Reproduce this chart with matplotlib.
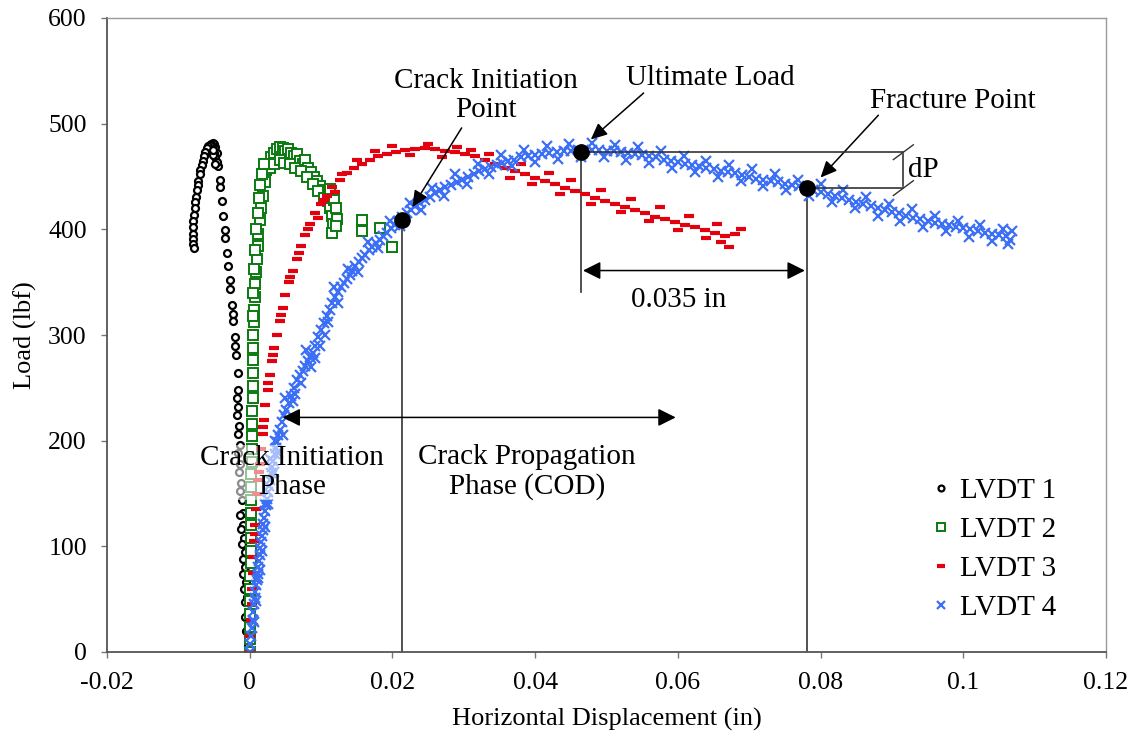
import matplotlib
matplotlib.use("Agg")
import matplotlib.pyplot as plt

plt.rcParams["font.family"] = "serif"
plt.rcParams["font.serif"] = ["Liberation Serif", "DejaVu Serif"]

# (displacement in, load lbf)
LVDT1 = [
    (0.0000, 0), (-0.0001, 12), (-0.0002, 25), (-0.0003, 38), (-0.0004, 52),
    (-0.0005, 66), (-0.0006, 80), (-0.0007, 95), (-0.0008, 108), (-0.0009, 120),
    (-0.0010, 132), (-0.0011, 144), (-0.0012, 160), (-0.0013, 178), (-0.0014, 196),
    (-0.0015, 214), (-0.0016, 232), (-0.0016, 248), (-0.0017, 264), (-0.0019, 281),
    (-0.0021, 298), (-0.0023, 313), (-0.0025, 328), (-0.0027, 344), (-0.0028, 352),
    (-0.0030, 365), (-0.0032, 378), (-0.0034, 392), (-0.0035, 399), (-0.0037, 413),
    (-0.0039, 427), (-0.0041, 440), (-0.0042, 447), (-0.0044, 460), (-0.0046, 472),
    (-0.0048, 478), (-0.0050, 481), (-0.0052, 482), (-0.0054, 481), (-0.0056, 480),
    (-0.0058, 479), (-0.0060, 477), (-0.0062, 473), (-0.0064, 469), (-0.0066, 465),
    (-0.0067, 461), (-0.0069, 456), (-0.0070, 452), (-0.0072, 446), (-0.0073, 442),
    (-0.0074, 437), (-0.0075, 431), (-0.0076, 426), (-0.0077, 420), (-0.0078, 414),
    (-0.0079, 408), (-0.0079, 402), (-0.0080, 396), (-0.0079, 391), (-0.0080, 386),
    (-0.0078, 382), (-0.0048, 468), (-0.0050, 472), (-0.0046, 464), (-0.0052, 470),
    (-0.0049, 462), (-0.0051, 475), (-0.0003, 6), (-0.0005, 20), (-0.0006, 33),
    (-0.0007, 47), (-0.0008, 60), (-0.0009, 74), (-0.0010, 88), (-0.0011, 102),
    (-0.0012, 116), (-0.0013, 130), (-0.0014, 152), (-0.0015, 170), (-0.0016, 188),
    (-0.0017, 206), (-0.0018, 224), (-0.0018, 240), (-0.0020, 290), (-0.0024, 320),
]

LVDT2 = [
    (0.0000, 0), (0.0000, 12), (0.0001, 24), (0.0001, 36), (0.0001, 48),
    (0.0001, 60), (0.0001, 72), (0.0002, 84), (0.0002, 96), (0.0002, 108),
    (0.0002, 120), (0.0002, 132), (0.0002, 144), (0.0002, 156), (0.0002, 168),
    (0.0003, 180), (0.0003, 192), (0.0003, 204), (0.0003, 216), (0.0003, 228),
    (0.0004, 240), (0.0004, 252), (0.0004, 264), (0.0004, 276), (0.0005, 288),
    (0.0005, 300), (0.0006, 312), (0.0006, 324), (0.0007, 336), (0.0008, 348),
    (0.0009, 360), (0.0010, 372), (0.0011, 384), (0.0012, 396), (0.0014, 409),
    (0.0016, 420), (0.0018, 432), (0.0021, 445), (0.0023, 456), (0.0026, 462),
    (0.0030, 468), (0.0034, 472), (0.0038, 476), (0.0042, 478), (0.0046, 477),
    (0.0050, 474), (0.0054, 476), (0.0058, 472), (0.0062, 469), (0.0066, 471),
    (0.0070, 465), (0.0074, 462), (0.0078, 466), (0.0082, 458), (0.0086, 454),
    (0.0090, 450), (0.0094, 446), (0.0098, 441), (0.0102, 437), (0.0106, 432),
    (0.0110, 427), (0.0113, 420), (0.0115, 413), (0.0117, 405), (0.0116, 397),
    (0.0028, 458), (0.0034, 462), (0.0042, 466), (0.0048, 463), (0.0056, 462),
    (0.0064, 458), (0.0072, 455), (0.0080, 450), (0.0088, 443), (0.0096, 436),
    (0.0104, 430), (0.0112, 438), (0.0118, 428), (0.0121, 420), (0.0122, 410),
    (0.0121, 403), (0.0158, 409), (0.0157, 398), (0.0182, 401), (0.0199, 383),
    (0.0004, 318), (0.0005, 340), (0.0006, 362), (0.0008, 380), (0.0009, 400),
    (0.0011, 415), (0.0013, 430), (0.0015, 442), (0.0017, 452), (0.0020, 462),
]

LVDT3 = [
    (0.0000, 0), (0.0001, 15), (0.0002, 30), (0.0003, 45), (0.0003, 60),
    (0.0004, 75), (0.0005, 90), (0.0006, 105), (0.0007, 120), (0.0009, 135),
    (0.0010, 150), (0.0012, 163), (0.0014, 178), (0.0016, 192), (0.0018, 206),
    (0.0020, 220), (0.0022, 234), (0.0025, 248), (0.0028, 262), (0.0031, 275),
    (0.0034, 288), (0.0038, 300), (0.0042, 313), (0.0046, 326), (0.0050, 338),
    (0.0055, 350), (0.0060, 361), (0.0066, 372), (0.0072, 384), (0.0078, 395),
    (0.0085, 405), (0.0092, 415), (0.0100, 424), (0.0108, 432), (0.0116, 440),
    (0.0126, 447), (0.0136, 453), (0.0146, 458), (0.0157, 462), (0.0168, 466),
    (0.0180, 469), (0.0192, 471), (0.0205, 473), (0.0218, 475), (0.0232, 476),
    (0.0246, 477), (0.0260, 476), (0.0274, 474), (0.0288, 473), (0.0302, 471),
    (0.0316, 469), (0.0330, 466), (0.0344, 462), (0.0358, 458), (0.0372, 455),
    (0.0386, 452), (0.0400, 449), (0.0414, 446), (0.0428, 443), (0.0442, 439),
    (0.0456, 436), (0.0470, 433), (0.0484, 430), (0.0498, 427), (0.0512, 424),
    (0.0526, 421), (0.0540, 418), (0.0554, 415), (0.0568, 412), (0.0582, 410),
    (0.0596, 407), (0.0610, 404), (0.0624, 402), (0.0638, 399), (0.0652, 397),
    (0.0666, 394), (0.0680, 396), (0.0688, 400),
    (0.0150, 466), (0.0175, 474), (0.0200, 479), (0.0225, 470), (0.0250, 481),
    (0.0270, 468), (0.0290, 478), (0.0310, 475), (0.0335, 471), (0.0365, 449),
    (0.0380, 462), (0.0395, 443), (0.0420, 453), (0.0435, 433), (0.0450, 447),
    (0.0478, 424), (0.0492, 437), (0.0520, 416), (0.0535, 429), (0.0560, 408),
    (0.0575, 421), (0.0600, 399), (0.0615, 413), (0.0640, 392), (0.0655, 405),
    (0.0672, 383), (0.0660, 388), (0.0120, 435), (0.0130, 452), (0.0095, 411),
    (0.0008, 112), (0.0013, 170), (0.0019, 213), (0.0026, 255), (0.0032, 281),
    (0.0044, 319), (0.0057, 355), (0.0069, 378), (0.0082, 400), (0.0104, 428),
]

LVDT4 = [
    (0.0000, 0), (0.0001, 8), (0.0002, 15), (0.0003, 23), (0.0004, 30),
    (0.0005, 38), (0.0006, 45), (0.0007, 51), (0.0008, 57), (0.0009, 63),
    (0.0010, 68), (0.0011, 74), (0.0012, 80), (0.0013, 86), (0.0014, 92),
    (0.0015, 98), (0.0016, 104), (0.0017, 110), (0.0018, 115), (0.0019, 121),
    (0.0020, 127), (0.0022, 133), (0.0023, 139), (0.0024, 145), (0.0025, 151),
    (0.0027, 157), (0.0028, 163), (0.0030, 169), (0.0031, 175), (0.0033, 181),
    (0.0035, 187), (0.0037, 193), (0.0038, 199), (0.0040, 205), (0.0042, 210),
    (0.0045, 218), (0.0048, 224), (0.0051, 229), (0.0055, 236), (0.0058, 242),
    (0.0062, 250), (0.0066, 257), (0.0070, 262), (0.0074, 266), (0.0078, 271),
    (0.0081, 275), (0.0085, 279), (0.0088, 283), (0.0092, 290), (0.0096, 298),
    (0.0100, 305), (0.0104, 311), (0.0108, 318), (0.0112, 324), (0.0116, 330),
    (0.0120, 336), (0.0124, 341), (0.0128, 345), (0.0132, 349), (0.0136, 353),
    (0.0140, 357), (0.0144, 361), (0.0148, 365), (0.0153, 369), (0.0157, 373),
    (0.0162, 376), (0.0167, 380), (0.0172, 383), (0.0177, 387), (0.0182, 390),
    (0.0187, 394), (0.0193, 397), (0.0198, 401), (0.0203, 404), (0.0208, 408),
    (0.0214, 412), (0.0220, 415), (0.0226, 418), (0.0232, 422), (0.0239, 425),
    (0.0245, 428), (0.0252, 431), (0.0259, 434), (0.0267, 437), (0.0274, 440),
    (0.0282, 442), (0.0290, 445), (0.0298, 447), (0.0306, 450), (0.0314, 452),
    (0.0322, 455), (0.0330, 457), (0.0338, 459), (0.0346, 461), (0.0354, 463),
    (0.0362, 465), (0.0370, 466), (0.0380, 468), (0.0390, 469), (0.0400, 470),
    (0.0410, 471), (0.0420, 472), (0.0430, 473), (0.0440, 474), (0.0450, 474),
    (0.0460, 475), (0.0470, 475), (0.0480, 475), (0.0490, 475), (0.0500, 474),
    (0.0510, 474), (0.0520, 473), (0.0530, 472), (0.0540, 471), (0.0550, 470),
    (0.0560, 469), (0.0570, 468), (0.0580, 466), (0.0590, 465), (0.0600, 464),
    (0.0610, 462), (0.0620, 461), (0.0630, 460), (0.0640, 458), (0.0650, 457),
    (0.0660, 455), (0.0670, 454), (0.0680, 453), (0.0690, 451), (0.0700, 450),
    (0.0710, 448), (0.0720, 447), (0.0730, 446), (0.0740, 445), (0.0750, 443),
    (0.0760, 442), (0.0770, 441), (0.0780, 439), (0.0790, 437), (0.0800, 435),
    (0.0810, 433), (0.0820, 432), (0.0830, 430), (0.0840, 428), (0.0850, 426),
    (0.0860, 424), (0.0870, 422), (0.0880, 420), (0.0890, 418), (0.0900, 416),
    (0.0910, 415), (0.0920, 413), (0.0930, 411), (0.0940, 410), (0.0950, 408),
    (0.0960, 406), (0.0970, 405), (0.0980, 404), (0.0990, 402), (0.1000, 401),
    (0.1010, 400), (0.1020, 398), (0.1030, 397), (0.1040, 396), (0.1050, 395),
    (0.1060, 394), (0.1065, 390), (0.1068, 398), (0.1062, 386),
    # band around the main trace
    (0.0012, 70), (0.0022, 118), (0.0034, 170), (0.0046, 205), (0.0060, 238),
    (0.0072, 255), (0.0086, 270), (0.0098, 290), (0.0110, 312), (0.0124, 330),
    (0.0138, 362), (0.0152, 360), (0.0166, 388), (0.0180, 382), (0.0196, 408),
    (0.0210, 403), (0.0224, 425), (0.0240, 418), (0.0256, 439), (0.0272, 432),
    (0.0288, 452), (0.0304, 443), (0.0320, 462), (0.0336, 452), (0.0352, 470),
    (0.0368, 460), (0.0384, 475), (0.0400, 464), (0.0416, 479), (0.0432, 467),
    (0.0448, 481), (0.0464, 468), (0.0480, 482), (0.0496, 468), (0.0512, 480),
    (0.0528, 466), (0.0544, 478), (0.0560, 463), (0.0576, 474), (0.0592, 458),
    (0.0608, 469), (0.0624, 454), (0.0640, 465), (0.0656, 450), (0.0672, 461),
    (0.0688, 446), (0.0704, 457), (0.0720, 441), (0.0736, 452), (0.0752, 437),
    (0.0768, 447), (0.0784, 432), (0.0800, 443), (0.0816, 426), (0.0832, 437),
    (0.0848, 420), (0.0864, 431), (0.0880, 413), (0.0896, 424), (0.0912, 408),
    (0.0928, 419), (0.0944, 402), (0.0960, 413), (0.0976, 398), (0.0992, 408),
    (0.1008, 393), (0.1024, 404), (0.1040, 389), (0.1056, 400),
    (0.0006, 28), (0.0009, 48), (0.0014, 78), (0.0017, 96), (0.0021, 140),
    (0.0026, 140), (0.0029, 183), (0.0036, 200), (0.0040, 188), (0.0050, 240),
    (0.0064, 244), (0.0079, 286), (0.0092, 278), (0.0106, 300), (0.0118, 345),
]

LABELS = ["LVDT 1", "LVDT 2", "LVDT 3", "LVDT 4"]

# key points on LVDT 4
CRACK_INIT = (0.0213, 409)
ULTIMATE = (0.0464, 473)
FRACTURE = (0.0781, 439)

DARK = "#333333"
AXIS_GRAY = "#555555"

fig = plt.figure(figsize=(11.43, 7.54), dpi=100)
ax = fig.add_axes([107 / 1143, 102 / 754, 999 / 1143, 634 / 754])

styles = [
    dict(marker="o", ms=5, mfc="white", mec="black", mew=1.6),
    dict(marker="s", ms=6.5, mfc="white", mec="#0b7a10", mew=1.4),
    dict(marker="_", ms=6.5, mec="#e3000f", mew=3.0),
    dict(marker="x", ms=7.5, mec="#3b6ff5", mew=1.6),
]
for data, label, st in zip([LVDT1, LVDT2, LVDT3, LVDT4], LABELS, styles):
    xs = [p[0] for p in data]
    ys = [p[1] for p in data]
    ax.plot(xs, ys, linestyle="none", label=label, **st)

ax.set_xlim(-0.02, 0.12)
ax.set_ylim(0, 600)
ax.set_xticks([-0.02, 0, 0.02, 0.04, 0.06, 0.08, 0.1, 0.12])
ax.set_xticklabels(["-0.02", "0", "0.02", "0.04", "0.06", "0.08", "0.1", "0.12"])
ax.set_yticks(range(0, 601, 100))
ax.tick_params(direction="out", length=4.5, width=1, color="#777777",
               labelsize=18.5, pad=10)
for name, s in ax.spines.items():
    if name in ("left", "bottom"):
        s.set_color(AXIS_GRAY)
        s.set_linewidth(1.3)
    else:
        s.set_color("#9a9a9a")
        s.set_linewidth(1.0)
ax.set_xlabel("Horizontal Displacement (in)", fontsize=19, labelpad=10)
ax.set_ylabel("Load (lbf)", fontsize=19, labelpad=8)

# reference lines
ax.plot([CRACK_INIT[0]] * 2, [0, CRACK_INIT[1]], color=DARK, lw=1.2, zorder=1)
ax.plot([ULTIMATE[0]] * 2, [341, ULTIMATE[1]], color=DARK, lw=1.2, zorder=1)
ax.plot([FRACTURE[0]] * 2, [0, FRACTURE[1]], color=DARK, lw=1.2, zorder=1)
ax.plot([ULTIMATE[0], 0.0916], [ULTIMATE[1]] * 2, color=DARK, lw=1.2, zorder=5)
ax.plot([FRACTURE[0], 0.0916], [FRACTURE[1]] * 2, color=DARK, lw=1.2, zorder=5)

# dP dimension marker
ax.plot([0.0916, 0.0916], [FRACTURE[1] + 2, ULTIMATE[1] - 2], color=DARK, lw=1.2)
for yy in (ULTIMATE[1], FRACTURE[1]):
    ax.plot([0.0902, 0.0930], [yy - 7, yy + 7], color=DARK, lw=1.0)
ax.text(0.0922, 456, "dP", fontsize=21, va="center", ha="left")

# key points
ax.plot(*zip(CRACK_INIT, ULTIMATE, FRACTURE), linestyle="none", marker="o",
        ms=11, color="black", zorder=10)

head = dict(arrowstyle="-|>,head_length=0.55,head_width=0.25",
            color="black", lw=1.1, mutation_scale=18, shrinkA=0, shrinkB=0)

ax.text(0.0331, 527, "Crack Initiation\nPoint", ha="center", va="center",
        fontsize=21, linespacing=1.15)
ax.annotate("", xy=(0.0228, 421), xytext=(0.0297, 496), arrowprops=head)
ax.annotate("", xy=(0.0478, 485), xytext=(0.0552, 529), arrowprops=head)
ax.text(0.0645, 543, "Ultimate Load", ha="center", va="center", fontsize=21)
ax.annotate("", xy=(0.0800, 449), xytext=(0.0881, 508), arrowprops=head)
ax.text(0.0986, 521, "Fracture Point", ha="center", va="center", fontsize=21)

dbl = dict(arrowstyle="<|-|>,head_length=0.6,head_width=0.3",
           color="black", lw=1.1, mutation_scale=18, shrinkA=0, shrinkB=0)
ax.annotate("", xy=(ULTIMATE[0] + 0.0003, 361), xytext=(FRACTURE[0] - 0.0003, 361),
            arrowprops=dbl)
ax.text(0.0601, 333, "0.035 in", ha="center", va="center", fontsize=21)

ax.annotate("", xy=(0.0046, 222), xytext=(0.0597, 222), arrowprops=dbl, zorder=6)
ax.text(0.0059, 170, "Crack Initiation\nPhase", ha="center", va="center",
        fontsize=21, linespacing=1.15, zorder=8,
        bbox=dict(facecolor="white", alpha=0.55, edgecolor="none", pad=0))
ax.text(0.0389, 170, "Crack Propagation\nPhase (COD)", ha="center", va="center",
        fontsize=21, linespacing=1.15)

ax.legend(loc="center left", bbox_to_anchor=(0.826, 0.162), frameon=False,
          fontsize=21, handlelength=0.6, handletextpad=0.35, labelspacing=0.43,
          borderpad=0, borderaxespad=0, markerscale=0.85)

fig.savefig("out.png", dpi=100, facecolor="white")
